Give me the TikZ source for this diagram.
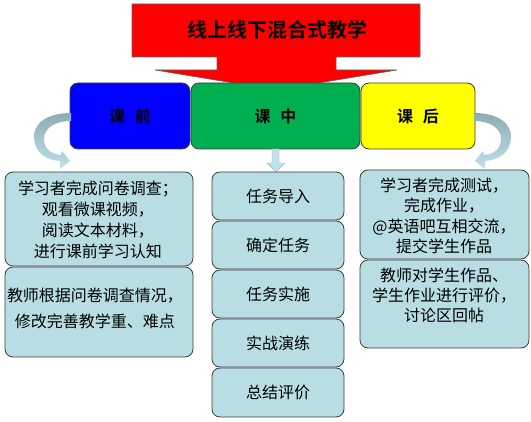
\documentclass[tikz,border=0pt]{standalone}
\usepackage{fontspec}
\newfontfamily\cjk{Noto Sans CJK SC}
\newfontfamily\cjkb{Noto Sans CJK SC Bold}
\definecolor{boxfill}{RGB}{184,222,228}
\definecolor{boxline}{RGB}{60,60,60}
\definecolor{hblue}{RGB}{0,0,255}
\definecolor{hgreen}{RGB}{0,176,80}
\definecolor{hyellow}{RGB}{255,255,0}
\definecolor{arrdark}{RGB}{140,172,178}
\definecolor{arrlight}{RGB}{190,226,232}
\begin{document}
\begin{tikzpicture}[x=1pt,y=-1pt,
  hdr/.style={draw=boxline,line width=0.8pt,rounded corners=8pt},
  lbox/.style={draw=boxline,fill=boxfill,line width=0.8pt,rounded corners=8pt},
  btext/.style={font=\cjk\fontsize{16}{21}\selectfont,align=center,inner sep=0pt},
  htext/.style={font=\cjkb\fontsize{16}{18}\selectfont,inner sep=0pt},
  curv/.style={top color=arrdark,bottom color=arrlight,draw=none}]
\useasboundingbox (0,0) rectangle (531,422);
% big red arrow
\path[fill=red,draw=boxline!80,line width=0.6pt]
  (132,4) -- (420,4) -- (420,57) -- (336,57) -- (336,70) -- (397,70)
  -- (276,90) -- (155,70) -- (217,70) -- (217,57) -- (132,57) -- cycle;
\node[font=\cjkb\fontsize{20}{24}\selectfont,inner sep=0pt] (title) at (277,30) {线上线下混合式教学};
% header boxes
\path[hdr,fill=hblue] (70,83) rectangle (190,149);
\path[hdr,fill=hgreen] (191,83) rectangle (360,149);
\path[hdr,fill=hyellow] (361,83) rectangle (475,149);
\node[htext] (pre) at (130,116) {课\hspace{0.6em}前};
\node[htext] (mid) at (275.5,116) {课\hspace{0.6em}中};
\node[htext] (post) at (418,116) {课\hspace{0.6em}后};
% curved arrows
\path[curv]
  (71,113) .. controls (45,113) and (33,125) .. (34,138)
  .. controls (35,152) and (45,160) .. (60,161)
  -- (60,169) -- (70,161) -- (62,151) -- (61,155)
  .. controls (50,154) and (44,148) .. (44,139)
  .. controls (44,128) and (55,121) .. (71,121) -- cycle;
\path[curv]
  (474,113) .. controls (500,113) and (512,125) .. (511,138)
  .. controls (510,152) and (500,160) .. (485,161)
  -- (485,169) -- (475,161) -- (483,151) -- (484,155)
  .. controls (495,154) and (501,148) .. (501,139)
  .. controls (501,128) and (490,121) .. (474,121) -- cycle;
\path[fill=arrlight,draw=arrdark!80,line width=0.4pt]
  (272,149) -- (279,149) -- (279,163) -- (285,163) -- (276,172)
  -- (267,163) -- (272,163) -- cycle;
% left boxes
\path[lbox] (5,172) rectangle (193,266);
\node[btext] (l1) at (98,220) {学习者完成问卷调查；\\观看微课视频，\\阅读文本材料，\\进行课前学习认知};
\path[lbox] (5,267) rectangle (193,357);
\node[btext,font=\cjk\fontsize{16}{26}\selectfont] (l2) at (95,308) {教师根据问卷调查情况，\\修改完善教学重、难点};
% middle boxes
\path[lbox] (212,172) rectangle (344,220);
\node[btext] (m1) at (278,196) {任务导入};
\path[lbox] (212,221) rectangle (344,269);
\node[btext] (m2) at (278,245) {确定任务};
\path[lbox] (212,270) rectangle (344,318);
\node[btext] (m3) at (278,294) {任务实施};
\path[lbox] (212,319) rectangle (344,367);
\node[btext] (m4) at (278,343) {实战演练};
\path[lbox] (212,368) rectangle (344,417);
\node[btext] (m5) at (278,392) {总结评价};
% right boxes
\path[lbox] (360,170) rectangle (529,259);
\node[btext,font=\cjk\fontsize{16}{20.5}\selectfont] (r1) at (444,216) {学习者完成测试，\\完成作业，\\@英语吧互相交流，\\提交学生作品};
\path[lbox] (360,260) rectangle (529,348);
\node[btext,font=\cjk\fontsize{16}{20}\selectfont] (r2) at (444,295) {教师对学生作品、\\学生作业进行评价，\\讨论区回帖};
\end{tikzpicture}
\end{document}
